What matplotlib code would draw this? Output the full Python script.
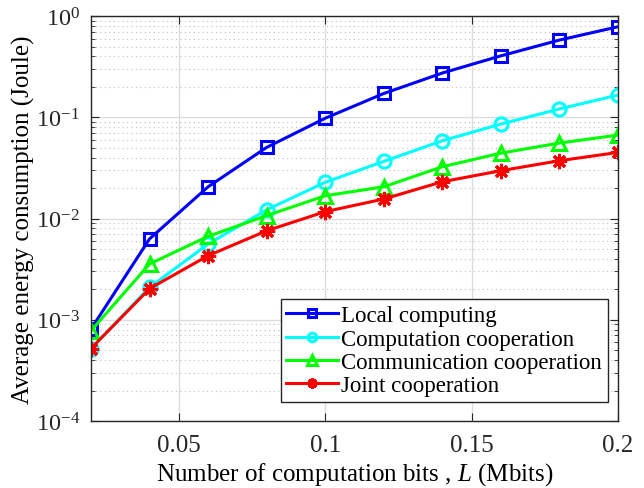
import math
import matplotlib
matplotlib.use("Agg")
import matplotlib.pyplot as plt
from matplotlib.ticker import LogLocator, NullFormatter, FuncFormatter

plt.rcParams['font.family'] = ['Liberation Serif', 'DejaVu Serif']
plt.rcParams['mathtext.fontset'] = 'custom'
plt.rcParams['mathtext.rm'] = 'Liberation Serif'
plt.rcParams['mathtext.it'] = 'Liberation Serif:italic'
plt.rcParams['axes.unicode_minus'] = False

L = [0.02, 0.04, 0.06, 0.08, 0.10, 0.12, 0.14, 0.16, 0.18, 0.20]
local = [8.1e-4, 6.3e-3, 0.0206, 0.0505, 0.098, 0.172, 0.274, 0.405, 0.58, 0.785]
comp_coop = [5.2e-4, 2.09e-3, 5.6e-3, 0.0122, 0.0228, 0.0367, 0.0587, 0.0858, 0.121, 0.166]
comm_coop = [7.8e-4, 3.56e-3, 6.67e-3, 0.0107, 0.0168, 0.0206, 0.0325, 0.0443, 0.0557, 0.0668]
joint = [5.2e-4, 2.03e-3, 4.3e-3, 7.58e-3, 0.0117, 0.0156, 0.0231, 0.0297, 0.0373, 0.045]

labels = ["Local computing", "Computation cooperation", "Communication cooperation", "Joint cooperation"]
colors = ["#0000ff", "#00ffff", "#00ff00", "#ff0000"]
markers = ["s", "o", "^", (8, 2, 0)]

fig = plt.figure(figsize=(6.44, 4.89), dpi=100)
ax = fig.add_axes([0.1413, 0.137, 0.8183, 0.828])

series = [local, comp_coop, comm_coop, joint]
msizes = [8.5, 9.5, 10.5, 11]
for y, lab, c, m, ms in zip(series, labels, colors, markers, msizes):
    ax.plot(L, y, color=c, lw=2.2, marker=m, markersize=ms, label=lab,
            markerfacecolor='none', markeredgecolor=c, markeredgewidth=2.2)

ax.set_yscale('log')
ax.set_xlim(0.02, 0.2)
ax.set_ylim(1e-4, 1e0)
ax.set_xticks([0.05, 0.1, 0.15, 0.2])
ax.set_xticklabels(['0.05', '0.1', '0.15', '0.2'])
ax.yaxis.set_major_locator(LogLocator(base=10, numticks=10))
ax.yaxis.set_major_formatter(FuncFormatter(
    lambda v, p: r"$\mathregular{10^{%d}}$" % round(math.log10(v))))
ax.yaxis.set_minor_locator(LogLocator(base=10, subs=range(2, 10), numticks=10))
ax.yaxis.set_minor_formatter(NullFormatter())

ax.grid(True, which='major', color='#dcdcdc', lw=1, ls='-')
ax.grid(True, which='minor', axis='y', color='#c0c0c0', lw=0.8, ls=(0, (1, 3)))
ax.set_axisbelow(True)
ax.tick_params(which='both', direction='in', top=True, right=True, colors='#262626')
ax.tick_params(axis='x', labelsize=18, pad=9)
ax.tick_params(axis='y', labelsize=17.5, pad=8)
ax.tick_params(which='major', length=6)
ax.tick_params(which='minor', length=3)
for s in ax.spines.values():
    s.set_color('#262626')
    s.set_linewidth(1)

ax.set_xlabel(r"Number of computation bits , $\mathit{L}$ (Mbits)", fontsize=18, labelpad=3)
ax.set_ylabel("Average energy consumption (Joule)", fontsize=18)
ax.yaxis.set_label_coords(-0.106, 0.5)

leg = ax.legend(loc='lower right', fontsize=16.5, markerscale=0.65, fancybox=False,
                edgecolor='#262626', framealpha=1, handlelength=2.25,
                borderpad=0.25, labelspacing=0.1, handletextpad=0.15,
                borderaxespad=0, bbox_to_anchor=(0.981, 0.047))
leg.get_frame().set_linewidth(1)

fig.savefig("out.png", dpi=100)
